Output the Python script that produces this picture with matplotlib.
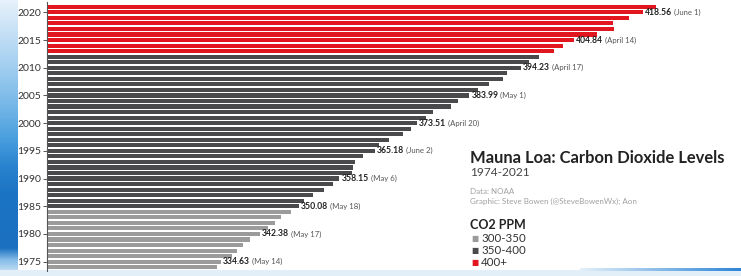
import numpy as np
import matplotlib.pyplot as plt
from matplotlib.colors import LinearSegmentedColormap

# ---------------- data ----------------
years = list(range(1974, 2022))
ppm = [333.8, 334.63, 336.8, 337.8, 339.0, 340.4, 342.38, 344.0, 345.4, 346.6,
       348.55, 350.08, 351.1, 352.9, 355.1, 356.9, 358.15, 360.7, 360.9, 361.3,
       362.9, 365.18, 366.1, 368.0, 370.8, 372.4, 373.51, 375.4, 376.8, 380.4,
       381.8, 383.99, 385.7, 387.9, 390.7, 391.5, 394.23, 395.9, 397.9, 400.9,
       402.7, 404.84, 409.4, 412.8, 412.6, 415.8, 418.56, 421.1]
annot_years = [1975, 1980, 1985, 1990, 1995, 2000, 2005, 2010, 2015, 2020]
annot_dates = ["May 14", "May 17", "May 18", "May 6", "June 2",
               "April 20", "May 1", "April 17", "April 14", "June 1"]
tick_years = [1975, 1980, 1985, 1990, 1995, 2000, 2005, 2010, 2015, 2020]
legend_labels = ["300-350", "350-400", "400+"]

C_LIGHT, C_DARK, C_RED = "#9b9b9b", "#4a4a4c", "#e2161f"
FONT = "Lato"

def color_for(v):
    if v < 350:
        return C_LIGHT
    if v < 400:
        return C_DARK
    return C_RED

W, H = 741, 276
fig = plt.figure(figsize=(W / 100, H / 100), dpi=100)

# ---------------- background ----------------
bg = fig.add_axes([0, 0, 1, 1], zorder=-10)
bg.set_axis_off()
img = np.ones((H, W, 3))
strip = LinearSegmentedColormap.from_list("s", [
    (0.0, "#e6f1fb"), (0.08, "#cfe5f7"), (0.25, "#9fcdef"), (0.40, "#6fb3e6"),
    (0.50, "#4a9fde"), (0.60, "#2a83cf"), (0.70, "#1c74c4"), (0.90, "#1b70c0"),
    (0.95, "#8fc1ea"), (1.0, "#d6e8f7")])
col = strip(np.linspace(0, 1, H))[:, :3]
img[:, :18, :] = col[:, None, :]
img[270:, :, :] = np.array([0.89, 0.94, 0.98])
# blue accent line at bottom right
ramp = np.linspace(0, 1, W - 580)[:, None]
pale = np.array([0.89, 0.94, 0.98])
blue = np.array([0.18, 0.52, 0.84])
img[268:271, 580:, :] = (pale * (1 - ramp) + blue * ramp)[None, :, :]
bg.imshow(img, extent=[0, W, H, 0], aspect="auto")
bg.set_xlim(0, W)
bg.set_ylim(H, 0)

# ---------------- main axes ----------------
left_px, right_px, top_px, bot_px = 47, 735, 2, 271
ax = fig.add_axes([left_px / W, 1 - bot_px / H, (right_px - left_px) / W, (bot_px - top_px) / H])
ax.patch.set_alpha(0)
px_per_ppm = 5.028
ax.set_xlim(300, 300 + (right_px - left_px) / px_per_ppm)
ax.set_ylim(1973.31, 2021.87)

ax.barh(years, [v - 300 for v in ppm], left=300, height=0.74,
        color=[color_for(v) for v in ppm], linewidth=0)

for y, d in zip(annot_years, annot_dates):
    v = ppm[years.index(y)]
    t = ax.annotate(f"{v:.2f}", xy=(v, y), xytext=(1.5, 0), textcoords="offset points",
                    ha="left", va="center", fontsize=6.2, fontweight="bold",
                    color="#222222", family=FONT)
    ax.annotate(f"({d})", xy=(1, 0.5), xycoords=t, xytext=(1.5, 0),
                textcoords="offset points", ha="left", va="center",
                fontsize=5.6, color="#555555", family=FONT)

for s in ["top", "right", "bottom"]:
    ax.spines[s].set_visible(False)
ax.spines["left"].set_color("#555555")
ax.spines["left"].set_linewidth(0.8)
ax.set_xticks([])
ax.set_yticks(tick_years)
ax.set_yticklabels([str(y) for y in tick_years])
ax.tick_params(axis="y", length=3, width=0.7, color="#555555", labelcolor="#333333",
               labelsize=7.5, pad=1)
for lab in ax.get_yticklabels():
    lab.set_family(FONT)

# ---------------- title & legend ----------------
x0 = 470 / W
fig.text(x0, 1 - 158 / H, "Mauna Loa: Carbon Dioxide Levels", fontsize=11.9,
         fontweight="bold", color="#222222", family=FONT, va="center")
fig.text(x0, 1 - 172 / H, "1974-2021", fontsize=8.6, color="#444444", family=FONT, va="center")
fig.text(x0, 1 - 191 / H, "Data: NOAA", fontsize=5.8, color="#a0a0a0", family=FONT, va="center")
fig.text(x0, 1 - 201 / H, "Graphic: Steve Bowen (@SteveBowenWx); Aon", fontsize=5.8,
         color="#a0a0a0", family=FONT, va="center")
fig.text(x0, 1 - 225 / H, "CO2 PPM", fontsize=9, fontweight="bold", color="#222222",
         family=FONT, va="center")
for i, (lab, c) in enumerate(zip(legend_labels, [C_LIGHT, C_DARK, C_RED])):
    yy = 1 - (239 + 12 * i) / H
    fig.text(x0 + 1 / W, yy, "\u25A0", fontsize=5.5, color=c, family="DejaVu Sans", va="center")
    fig.text(x0 + 11 / W, yy, lab, fontsize=8.3, color="#333333", family=FONT, va="center")

fig.savefig("out.png", dpi=100)
